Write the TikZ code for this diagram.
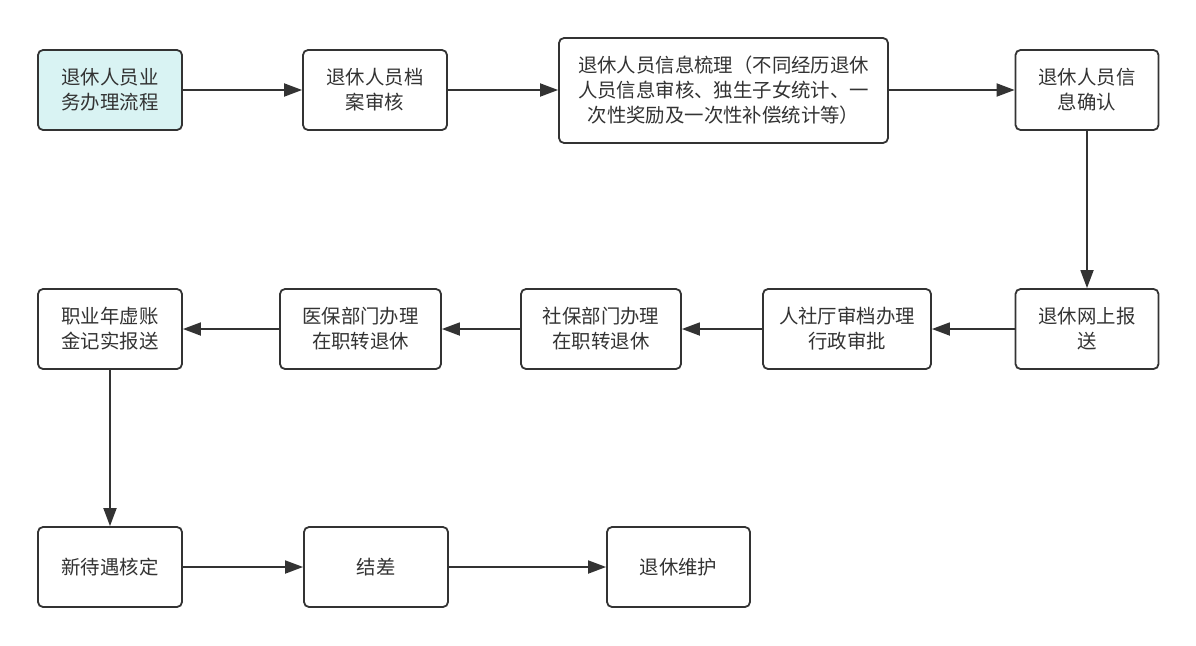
\documentclass[tikz,border=0pt]{standalone}
\usepackage{fontspec}
\setmainfont{Noto Sans CJK SC}
\usetikzlibrary{arrows.meta}
\definecolor{ink}{HTML}{333333}
\definecolor{startfill}{HTML}{D9F3F3}
\tikzset{
  box/.style={draw=ink, line width=1.8pt, rounded corners=5pt, fill=white,
    text=ink, align=center, inner sep=0pt, minimum height=80pt,
    font=\fontsize{19.4pt}{25pt}\selectfont},
  arr/.style={draw=ink, line width=1.8pt, -{Triangle[length=18pt,width=13pt]}},
}
\begin{document}
\begin{tikzpicture}[x=1pt,y=-1pt]
\useasboundingbox (0,0) rectangle (1196,645);
\node[box, fill=startfill, minimum width=144pt] (b1) at (110,90) {退休人员业\\务办理流程};
\node[box, minimum width=144pt] (b2) at (375,90) {退休人员档\\案审核};
\node[box, minimum width=329pt, minimum height=105pt] (b3) at (723.5,90.5) {退休人员信息梳理（不同经历退休\\人员信息审核、独生子女统计、一\\次性奖励及一次性补偿统计等）};
\node[box, minimum width=143pt] (b4) at (1087,90) {退休人员信\\息确认};
\node[box, minimum width=143pt] (b5) at (1087,329) {退休网上报\\送};
\node[box, minimum width=168pt] (b6) at (847,329) {人社厅审档办理\\行政审批};
\node[box, minimum width=160pt] (b7) at (601,329) {社保部门办理\\在职转退休};
\node[box, minimum width=161pt] (b8) at (360.5,329) {医保部门办理\\在职转退休};
\node[box, minimum width=144pt] (b9) at (110,329) {职业年虚账\\金记实报送};
\node[box, minimum width=144pt] (b10) at (110,567) {新待遇核定};
\node[box, minimum width=144pt] (b11) at (376,567) {结差};
\node[box, minimum width=143pt] (b12) at (678.5,567) {退休维护};
\draw[arr] (b1.east) -- (b2.west);
\draw[arr] (b2.east) -- (b3.west |- b2.east);
\draw[arr] (b3.east |- b4.west) -- (b4.west);
\draw[arr] (b4.south) -- (b5.north);
\draw[arr] (b5.west) -- (b6.east);
\draw[arr] (b6.west) -- (b7.east);
\draw[arr] (b7.west) -- (b8.east);
\draw[arr] (b8.west) -- (b9.east);
\draw[arr] (b9.south) -- (b10.north);
\draw[arr] (b10.east) -- (b11.west);
\draw[arr] (b11.east) -- (b12.west);
\end{tikzpicture}
\end{document}
